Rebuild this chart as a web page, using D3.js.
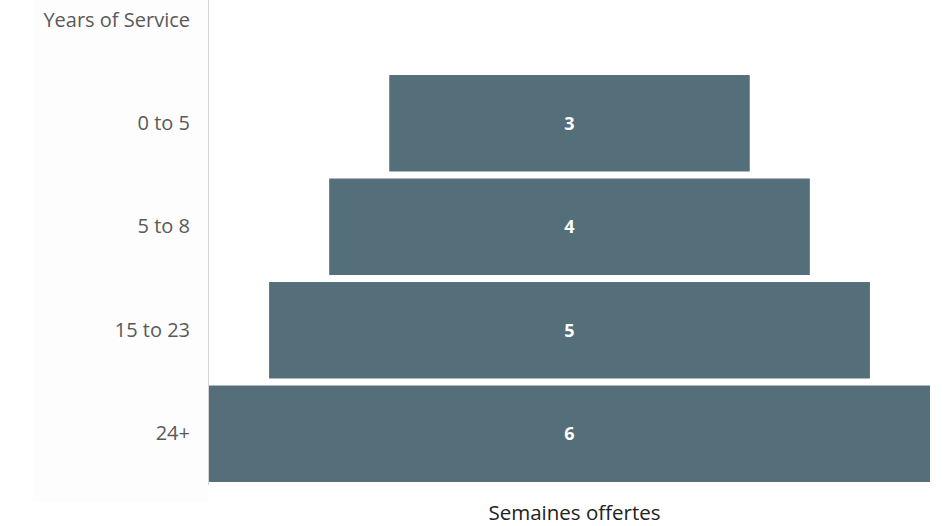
<!DOCTYPE html>
<html><head><meta charset="utf-8">
<script src="https://cdn.jsdelivr.net/npm/d3@7"></script>
<style>html,body{margin:0;padding:0;background:#fff;}svg{display:block;font-family:"Open Sans",sans-serif;}</style>
</head><body>
<svg id="c" width="942" height="526"></svg>
<script>
const categories = ["0 to 5", "5 to 8", "15 to 23", "24+"];
const values = [3, 4, 5, 6];
const yTitle = "Years of Service";
const xTitle = "Semaines offertes";

const svg = d3.select("#c");
const x = d3.scaleLinear().domain([-3, 3]).range([209, 930]);
const y = d3.scaleBand().domain(categories).range([71.5, 485.5]).paddingInner(0.068).paddingOuter(0.034);

// faint left panel
svg.append("rect").attr("x", 33).attr("y", 0).attr("width", 175).attr("height", 502).attr("fill", "#fdfdfd");

svg.append("line").attr("x1", 208.5).attr("x2", 208.5).attr("y1", 0).attr("y2", 485)
  .attr("stroke", "#d4d4d4").attr("stroke-width", 1);

svg.selectAll("rect.bar").data(values).join("rect").attr("class", "bar")
  .attr("x", d => x(-d / 2)).attr("width", d => x(d / 2) - x(-d / 2))
  .attr("y", (d, i) => y(categories[i])).attr("height", y.bandwidth())
  .attr("fill", "#546e7a");

svg.selectAll("text.val").data(values).join("text").attr("class", "val")
  .attr("x", x(0)).attr("y", (d, i) => y(categories[i]) + y.bandwidth() / 2)
  .attr("dy", "0.35em").attr("text-anchor", "middle")
  .attr("fill", "#fff").attr("font-weight", "bold").attr("font-size", 18).text(d => d);

const yAxis = d3.axisLeft(y).tickSize(0).tickPadding(18);
const g = svg.append("g").attr("transform", "translate(208,0)").call(yAxis);
g.select(".domain").remove();
g.selectAll("text").attr("fill", "#595959").attr("font-size", 20).attr("font-family", "Open Sans");

svg.append("text").attr("x", 190).attr("y", 20).attr("dy", "0.35em").attr("text-anchor", "end")
  .attr("fill", "#595959").attr("font-size", 20).text(yTitle);

svg.append("text").attr("x", x(0) + 5).attr("y", 520).attr("text-anchor", "middle")
  .attr("fill", "#222").attr("font-size", 20.5).text(xTitle);
</script>
</body></html>
